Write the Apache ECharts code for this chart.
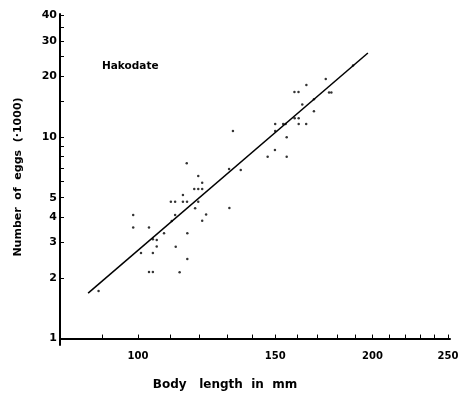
<!DOCTYPE html>
<html><head><meta charset="utf-8">
<script src="https://cdn.jsdelivr.net/npm/echarts@6/dist/echarts.min.js"></script>
<style>html,body{margin:0;padding:0;background:#fff}#c{width:465px;height:395px}</style>
</head><body><div id="c"></div>
<script>
// Body length (mm) and number of eggs (x1000)
const bodyLength = [89.0, 98.6, 98.6, 100.9, 103.3, 103.3, 104.5, 104.5, 104.5, 105.7,
  105.7, 108.0, 110.2, 111.6, 110.5, 111.6, 111.8, 113.1, 114.2, 114.2,
  115.6, 115.5, 115.7, 115.7, 118.1, 119.5, 120.9, 119.5, 120.9, 119.5,
  118.4, 122.3, 120.9, 130.9, 135.5, 132.4, 131.0, 146.7, 149.9, 155.2,
  150.0, 155.2, 150.0, 153.6, 154.7, 160.8, 164.4, 158.9, 160.8, 168.2,
  162.5, 168.2, 158.8, 160.7, 175.9, 177.1, 164.5, 174.2, 188.8];
const eggCount = [1.72, 4.10, 3.56, 2.66, 3.56, 2.14, 2.14, 3.11, 2.66, 3.08,
  2.86, 3.33, 4.77, 4.77, 3.83, 4.10, 2.85, 2.13, 5.15, 4.77,
  4.77, 7.40, 3.33, 2.48, 5.52, 5.52, 5.52, 6.40, 5.93, 4.77,
  4.43, 4.12, 3.84, 6.94, 6.86, 10.7, 4.44, 7.98, 8.62, 7.98,
  10.7, 9.97, 11.6, 11.6, 11.6, 11.6, 11.6, 12.4, 12.4, 13.4,
  14.5, 15.4, 16.7, 16.7, 16.6, 16.6, 18.1, 19.4, 22.6];
// Regression line end points
const fitLength = [86.3, 197.3];
const fitEggs = [1.68, 26.1];
// Axis ticks
const xLabelValues = [100, 150, 200, 250];
const xTickValues = [90, 100, 110, 120, 130, 140, 150, 160, 170, 180, 190, 200, 210, 220, 230, 240, 250];
const yLabelValues = [1, 2, 3, 4, 5, 10, 20, 30, 40];
const yTickValues = [1, 2, 3, 4, 5, 6, 7, 8, 9, 10, 15, 20, 25, 30, 35, 40];

const L = Math.log10;
const chart = echarts.init(document.getElementById('c'), null, {renderer: 'canvas'});
const font = 'DejaVu Sans';
const axisCommon = {
  type: 'value',
  axisLine: {show: true, lineStyle: {color: '#000', width: 2}},
  splitLine: {show: false},
  axisTick: {show: true, inside: true, length: 4, lineStyle: {color: '#000', width: 1}},
  axisLabel: {color: '#000', fontFamily: font, fontWeight: 'bold', fontSize: 11,
    formatter: v => String(Math.round(Math.pow(10, v)))}
};
chart.setOption({
  animation: false,
  backgroundColor: '#fff',
  grid: {left: 60, right: 15, top: 14, bottom: 50, containLabel: false, outerBoundsMode: 'none'},
  xAxis: echarts.util.merge({
    min: 1.8999, max: 2.4005,
    axisTick: {customValues: xTickValues.map(L)},
    axisLabel: {customValues: xLabelValues.map(L), margin: 6, fontSize: 10}
  }, axisCommon),
  yAxis: echarts.util.merge({
    min: -0.032, max: 1.61,
    axisTick: {customValues: yTickValues.map(L)},
    axisLabel: {customValues: yLabelValues.map(L), margin: 3}
  }, axisCommon),
  series: [
    {type: 'scatter', symbol: 'circle', symbolSize: 2.5,
      itemStyle: {color: '#000'},
      data: bodyLength.map((x, i) => [L(x), L(eggCount[i])])},
    {type: 'line', symbol: 'none', lineStyle: {color: '#000', width: 1.5},
      data: fitLength.map((x, i) => [L(x), L(fitEggs[i])])}
  ],
  graphic: [
    {type: 'text', x: 102, y: 66, style: {text: 'Hakodate', fontFamily: font, fontWeight: 'bold',
      fontSize: 10.5, fill: '#000', verticalAlign: 'middle', align: 'left'}},
    {type: 'text', x: 225, y: 385, style: {text: 'Body   length  in  mm', fontFamily: font, fontWeight: 'bold',
      fontSize: 12, fill: '#000', verticalAlign: 'middle', align: 'center'}},
    {type: 'text', x: 18, y: 177, rotation: Math.PI / 2, style: {text: 'Number  of  eggs  (·1000)', fontFamily: font,
      fontWeight: 'bold', fontSize: 11, fill: '#000', verticalAlign: 'middle', align: 'center'}}
  ]
});
</script></body></html>
